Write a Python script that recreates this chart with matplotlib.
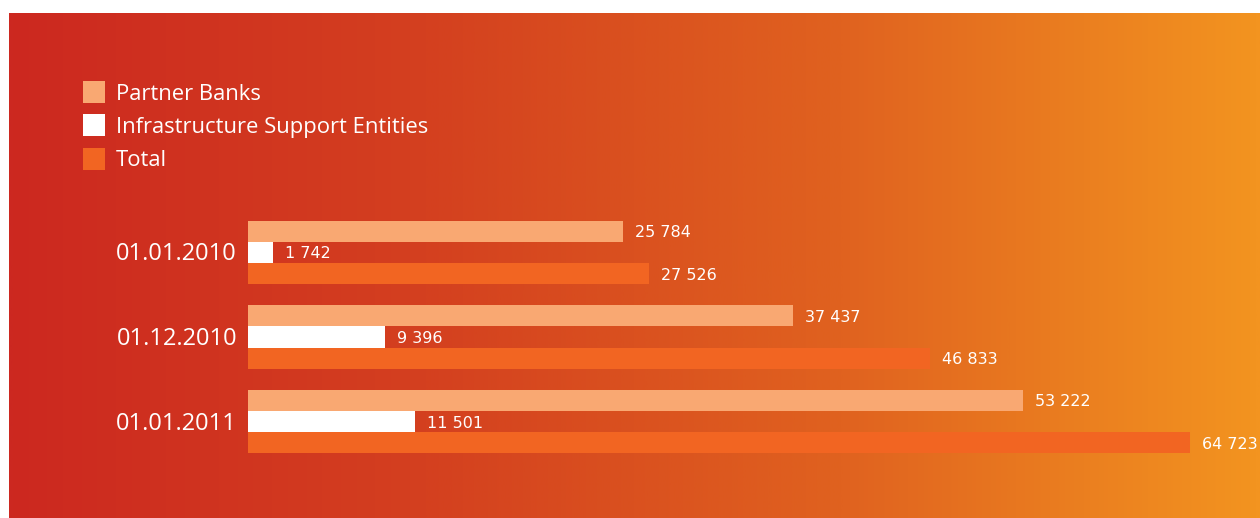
import numpy as np
import matplotlib
matplotlib.use("Agg")
import matplotlib.pyplot as plt
from matplotlib.colors import LinearSegmentedColormap
from matplotlib.patches import Rectangle

# ---- data ----
dates = ["01.01.2010", "01.12.2010", "01.01.2011"]
series_names = ["Partner Banks", "Infrastructure Support Entities", "Total"]
partner_banks = [25784, 37437, 53222]
infra_entities = [1742, 9396, 11501]
total = [27526, 46833, 64723]

colors = ["#f9a872", "#ffffff", "#f26522"]

W, H = 1260, 518
fig = plt.figure(figsize=(W / 100, H / 100), dpi=100)
fig.patch.set_facecolor("white")

# ---- gradient background ----
bg = fig.add_axes([9 / W, 0, (W - 9) / W, (H - 13) / H])
cmap = LinearSegmentedColormap.from_list(
    "bg", ["#cc2820", "#d4401f", "#e0621f", "#f39420"])
grad = np.linspace(0, 1, 512).reshape(1, -1)
bg.imshow(grad, aspect="auto", cmap=cmap, extent=[0, 1, 0, 1])
bg.set_axis_off()

# ---- bar axes ----
px_per_group = 84.5
x0 = 248
scale = (1190 - x0) / total[2]
ax = fig.add_axes([x0 / W, 0, (W - x0) / W, (H - 13) / H])
ax.set_facecolor("none")
ax.set_xlim(0, (W - x0) / scale)
top = 0 - (252.5 - 13) / px_per_group
bottom = 2 + (518 - 421.5) / px_per_group
ax.set_ylim(bottom, top)
ax.set_axis_off()

bh = 21.3 / px_per_group
idx = np.arange(len(dates))
pt = 0.72  # points per pixel at 100 dpi
for k, (vals, col) in enumerate(zip([partner_banks, infra_entities, total], colors)):
    ys = idx + (k - 1) * bh
    ax.barh(ys, vals, height=bh, color=col, linewidth=0)
    for y, v in zip(ys, vals):
        lab = f"{v:,}".replace(",", " ")
        ax.annotate(lab, (v, y), xytext=(12 * pt, -1.5 * pt), textcoords="offset points",
                    ha="left", va="center", color="white", fontsize=11.5,
                    family="DejaVu Sans")

for i, d in enumerate(dates):
    ax.annotate(d, (0, i), xytext=(-11 * pt, -2 * pt), textcoords="offset points",
                ha="right", va="center", color="white", fontsize=17,
                family="Open Sans")

# ---- legend (manual) ----
leg_y = [92, 125, 159]
for name, col, yc in zip(series_names, colors, leg_y):
    fig.patches.append(Rectangle((83 / W, 1 - (yc + 11) / H), 22 / W, 22 / H,
                                 transform=fig.transFigure, facecolor=col,
                                 edgecolor="none"))
    fig.text(116 / W, 1 - (yc + 2) / H, name, color="white", fontsize=15.8,
             family="Open Sans", ha="left", va="center")

fig.savefig("out.png", dpi=100)
